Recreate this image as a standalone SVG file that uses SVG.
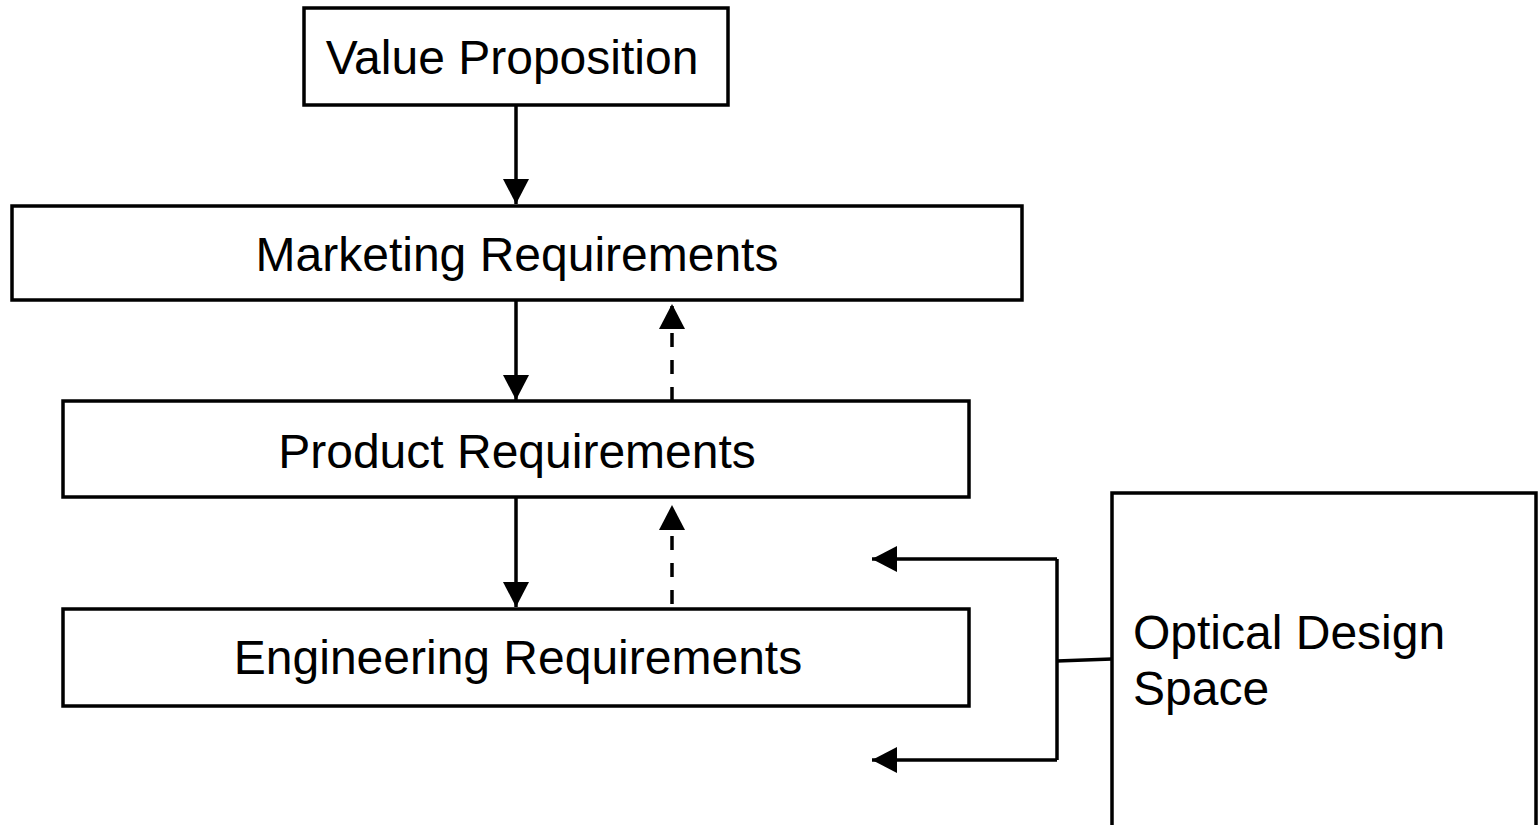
<svg xmlns="http://www.w3.org/2000/svg" width="1539" height="825" viewBox="0 0 1539 825">
<style>
.box{fill:#fff;stroke:#000;stroke-width:3.5}
.lbl{font-family:"Liberation Sans",Arial,sans-serif;font-size:48px;fill:#000}
.c{text-anchor:middle}
.ln{fill:none;stroke:#000;stroke-width:3.5}
.dash{stroke-dasharray:14 13}
</style>
<defs>
<marker id="ah" viewBox="0 0 25 26" refX="25" refY="13" markerWidth="25" markerHeight="26" markerUnits="userSpaceOnUse" orient="auto">
<path d="M0,0 L25,13 L0,26 Z" fill="#000"/>
</marker>
</defs>
<rect width="1539" height="825" fill="#fff"/>
<g id="connectors">
<line class="ln" x1="516" y1="105" x2="516" y2="204" marker-end="url(#ah)"/>
<line class="ln" x1="516" y1="300" x2="516" y2="400" marker-end="url(#ah)"/>
<line class="ln" x1="516" y1="497" x2="516" y2="607" marker-end="url(#ah)"/>
<line class="ln dash" x1="672" y1="401" x2="672" y2="304" marker-end="url(#ah)"/>
<line class="ln dash" x1="672" y1="604" x2="672" y2="505" marker-end="url(#ah)"/>
<polyline class="ln" points="1057,559 1057,760"/>
<line class="ln" x1="1057" y1="559" x2="872" y2="559" marker-end="url(#ah)"/>
<line class="ln" x1="1057" y1="760" x2="872" y2="760" marker-end="url(#ah)"/>
<line class="ln" x1="1057" y1="661" x2="1112" y2="659"/>
</g>
<g id="value-proposition">
<rect class="box" x="304" y="8" width="424" height="97"/>
<text class="lbl c" x="512" y="74">Value Proposition</text>
</g>
<g id="marketing-requirements">
<rect class="box" x="12" y="206" width="1010" height="94"/>
<text class="lbl c" x="517" y="271">Marketing Requirements</text>
</g>
<g id="product-requirements">
<rect class="box" x="63" y="401" width="906" height="96"/>
<text class="lbl c" x="517" y="468">Product Requirements</text>
</g>
<g id="engineering-requirements">
<rect class="box" x="63" y="609" width="906" height="97"/>
<text class="lbl c" x="518" y="674">Engineering Requirements</text>
</g>
<g id="optical-design-space">
<rect class="box" x="1112" y="493" width="424" height="345"/>
<text class="lbl" x="1133" y="649">Optical Design</text>
<text class="lbl" x="1133" y="705">Space</text>
</g>
</svg>
